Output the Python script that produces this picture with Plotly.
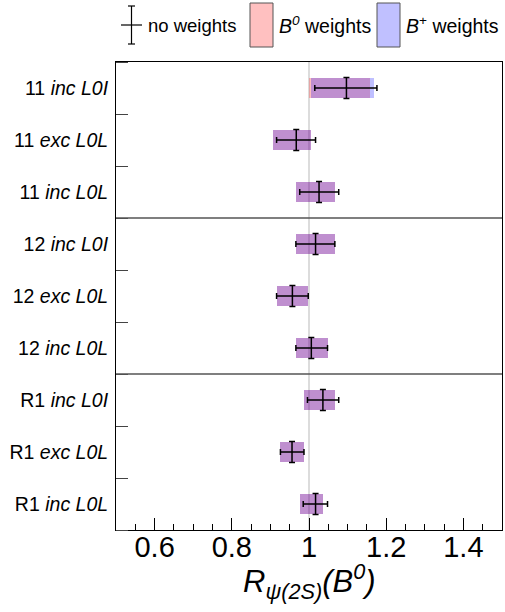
import plotly.graph_objects as go

# ---- data ----
labels = ["11 <i>inc L0I</i>", "11 <i>exc L0L</i>", "11 <i>inc L0L</i>",
          "12 <i>inc L0I</i>", "12 <i>exc L0L</i>", "12 <i>inc L0L</i>",
          "R1 <i>inc L0I</i>", "R1 <i>exc L0L</i>", "R1 <i>inc L0L</i>"]
central = [1.097, 0.967, 1.026, 1.017, 0.957, 1.006, 1.036, 0.956, 1.017]
err_lo = [1.015, 0.916, 0.976, 0.966, 0.916, 0.966, 0.996, 0.926, 0.985]
err_hi = [1.176, 1.017, 1.077, 1.067, 0.998, 1.048, 1.077, 0.987, 1.048]
b0_lo = [1.000, 0.907, 0.967, 0.967, 0.916, 0.966, 0.987, 0.926, 0.976]
b0_hi = [1.157, 1.006, 1.067, 1.067, 0.998, 1.048, 1.067, 0.987, 1.036]
bp_lo = [1.006, 0.907, 0.967, 0.967, 0.916, 0.966, 0.987, 0.926, 0.976]
bp_hi = [1.168, 1.006, 1.067, 1.067, 0.998, 1.048, 1.067, 0.987, 1.036]
x_ticks = [0.6, 0.8, 1.0, 1.2, 1.4]
group_breaks = [2.5, 5.5]

n = len(labels)
ypos = [n - 1 - i for i in range(n)]

FONT = "Liberation Sans, Arial, sans-serif"

fig = go.Figure()

fig.add_trace(go.Bar(
    orientation="h", y=ypos, base=b0_lo,
    x=[h - l for l, h in zip(b0_lo, b0_hi)], width=0.4,
    marker=dict(color="rgba(255,0,0,0.25)", line=dict(width=0)),
    showlegend=False, hoverinfo="skip"))
fig.add_trace(go.Bar(
    orientation="h", y=ypos, base=bp_lo,
    x=[h - l for l, h in zip(bp_lo, bp_hi)], width=0.4,
    marker=dict(color="rgba(0,0,255,0.25)", line=dict(width=0)),
    showlegend=False, hoverinfo="skip"))

fig.add_trace(go.Scatter(
    x=central, y=ypos, mode="markers",
    marker=dict(size=1, color="black"),
    error_x=dict(type="data", symmetric=False,
                 array=[h - c for c, h in zip(central, err_hi)],
                 arrayminus=[c - l for c, l in zip(central, err_lo)],
                 color="black", thickness=1.5, width=3),
    error_y=dict(type="constant", value=0.2, color="black",
                 thickness=1.5, width=3),
    showlegend=False, hoverinfo="skip"))

shapes = []
# vertical reference line at 1
shapes.append(dict(type="line", xref="x", yref="paper", x0=1, x1=1, y0=0, y1=1,
                   line=dict(color="#DCDCDC", width=2), layer="below"))
for b in group_breaks:
    shapes.append(dict(type="line", xref="paper", yref="y", x0=0, x1=1, y0=b, y1=b,
                       line=dict(color="#555555", width=1.5)))

# legend (paper coordinates)
L, R, T, B = 116, 502, 62, 530
def px(x):
    return (x - L) / (R - L)
def py(y):
    return (B - y) / (B - T)

leg_line = dict(color="black", width=1.2)
shapes += [
    dict(type="line", xref="paper", yref="paper", x0=px(131.5), x1=px(131.5), y0=py(6), y1=py(44), line=leg_line),
    dict(type="line", xref="paper", yref="paper", x0=px(121), x1=px(142), y0=py(25), y1=py(25), line=leg_line),
    dict(type="line", xref="paper", yref="paper", x0=px(128), x1=px(135), y0=py(6), y1=py(6), line=leg_line),
    dict(type="line", xref="paper", yref="paper", x0=px(128), x1=px(135), y0=py(44), y1=py(44), line=leg_line),
    dict(type="rect", xref="paper", yref="paper", x0=px(250), x1=px(273), y0=py(47), y1=py(3),
         fillcolor="#FFC0C0", line=dict(color="#555555", width=1)),
    dict(type="rect", xref="paper", yref="paper", x0=px(377), x1=px(400), y0=py(47), y1=py(3),
         fillcolor="#C0C0FF", line=dict(color="#555555", width=1)),
]

annotations = [
    dict(text="no weights", x=px(146), y=py(25), xref="paper", yref="paper",
         xanchor="left", yanchor="middle", showarrow=False, font=dict(size=18.5)),
    dict(text="<i>B<sup>0</sup></i> weights", x=px(277), y=py(25), xref="paper", yref="paper",
         xanchor="left", yanchor="middle", showarrow=False, font=dict(size=19.5)),
    dict(text="<i>B</i><sup>+</sup> weights", x=px(404), y=py(25), xref="paper", yref="paper",
         xanchor="left", yanchor="middle", showarrow=False, font=dict(size=19.5)),
    dict(text="<i>R<sub>ψ(2S)</sub>(B<sup>0</sup>)</i>", x=px(309.5), y=py(581),
         xref="paper", yref="paper", xanchor="center", yanchor="middle",
         showarrow=False, font=dict(size=31)),
]

fig.update_layout(
    width=505, height=612, autosize=False,
    margin=dict(l=L, r=505 - R, t=T, b=612 - B),
    paper_bgcolor="white", plot_bgcolor="white",
    font=dict(family=FONT, color="black"),
    barmode="overlay", bargap=0,
    shapes=shapes, annotations=annotations,
    xaxis=dict(range=[0.5, 1.5], tickvals=x_ticks, ticktext=[f"{v:g}" for v in x_ticks],
               ticks="inside", ticklen=12, tickwidth=1, tickcolor="black",
               minor=dict(dtick=0.05, tick0=0.5, ticks="inside", ticklen=6, tickcolor="black"),
               showline=True, linecolor="black", linewidth=1, mirror=True,
               showgrid=False, zeroline=False, tickfont=dict(size=29),
               ticklabelstandoff=-9),
    yaxis=dict(range=[-0.5, n - 0.5], tickvals=ypos, ticktext=labels,
               ticks="", showgrid=False, zeroline=False,
               minor=dict(tick0=0.5, dtick=1, ticks="inside", ticklen=12, tickcolor="#444444", showgrid=False),
               showline=True, linecolor="black", linewidth=1, mirror=True,
               tickfont=dict(size=19.5), ticklabelstandoff=3),
)

fig.write_html("out.html", config={"displayModeBar": False, "staticPlot": True},
               post_script=(
                   "document.body.style.margin='0';"
                   "document.body.style.padding='0';"
                   "document.body.style.overflow='hidden';"
               ))
